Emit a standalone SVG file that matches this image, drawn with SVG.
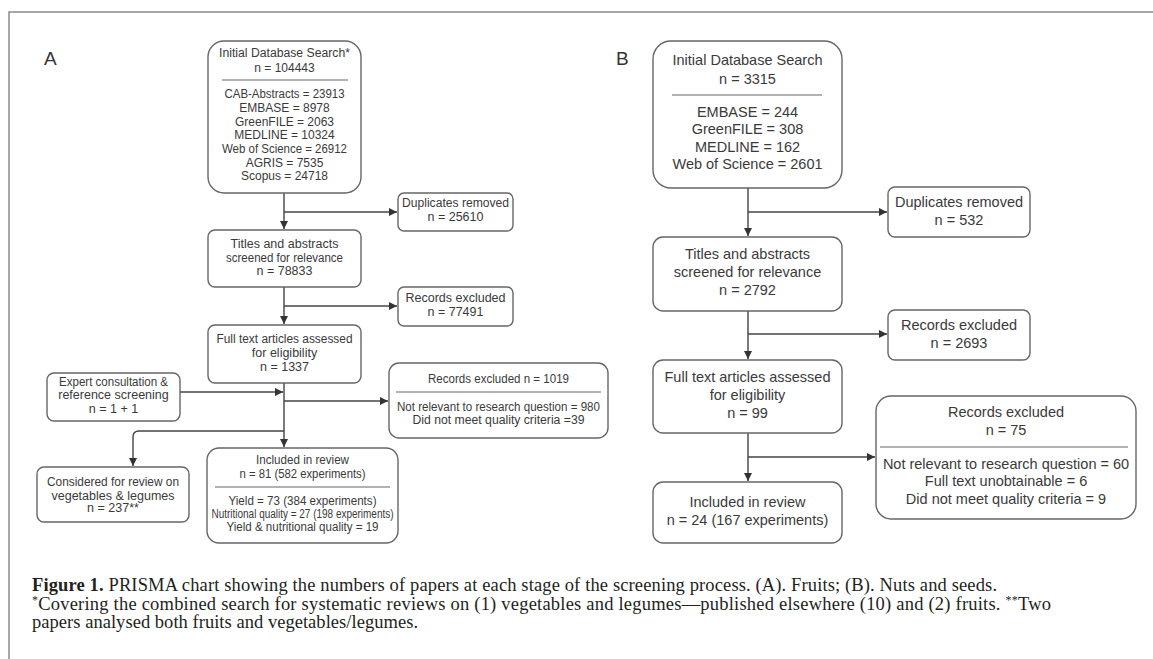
<svg xmlns="http://www.w3.org/2000/svg" width="1153" height="659" viewBox="0 0 1153 659">
<defs>
<marker id="ah" viewBox="0 0 10 10" refX="10" refY="5" markerWidth="8" markerHeight="8" markerUnits="userSpaceOnUse" orient="auto">
<path d="M0,0 L10,5 L0,10 z" fill="#333"/>
</marker>
<style>
.box{fill:#fff;stroke:#666;stroke-width:1.4}
.div{stroke:#666;stroke-width:1.2}
.ta{font-family:"Liberation Sans",Arial,sans-serif;font-size:12px;fill:#3a3a3a;text-anchor:middle}
.tm{font-family:"Liberation Sans",Arial,sans-serif;font-size:12.5px;fill:#3a3a3a;text-anchor:middle}
.tb{font-family:"Liberation Sans",Arial,sans-serif;font-size:14.5px;fill:#3a3a3a;text-anchor:middle}
.lbl{font-family:"Liberation Sans",Arial,sans-serif;font-size:19px;fill:#333}
.cap{font-family:"Liberation Serif","Times New Roman",serif;font-size:18.5px;fill:#231f20}
.con{fill:none;stroke:#444;stroke-width:1.4}
</style>
</defs>
<rect width="1153" height="659" fill="#fff"/>
<g id="frame"><path d="M9 659 V12 H1153" fill="none" stroke="#8a8a8a" stroke-width="1.5"/></g>
<text class="lbl" x="44" y="65">A</text>
<text class="lbl" x="616" y="65">B</text>

<g id="connectors">
<path class="con" d="M284 193 V229" marker-end="url(#ah)"/>
<path class="con" d="M284 212 H397" marker-end="url(#ah)"/>
<path class="con" d="M284 287 V324" marker-end="url(#ah)"/>
<path class="con" d="M284 306 H397" marker-end="url(#ah)"/>
<path class="con" d="M284 383 V447" marker-end="url(#ah)"/>
<path class="con" d="M180 392 H283" marker-end="url(#ah)"/>
<path class="con" d="M284 401 H388" marker-end="url(#ah)"/>
<path class="con" d="M284 431 H139 Q133 431 133 437 V466" marker-end="url(#ah)"/>
<path class="con" d="M748 188 V236" marker-end="url(#ah)"/>
<path class="con" d="M748 212 H887" marker-end="url(#ah)"/>
<path class="con" d="M748 311 V359" marker-end="url(#ah)"/>
<path class="con" d="M748 334 H887" marker-end="url(#ah)"/>
<path class="con" d="M748 433 V481" marker-end="url(#ah)"/>
<path class="con" d="M748 457 H875" marker-end="url(#ah)"/>
</g>

<g id="a-initial">
<rect class="box" x="208" y="41" width="153" height="152" rx="16"/>
<text class="ta" x="284.5" y="57" textLength="131" lengthAdjust="spacingAndGlyphs">Initial Database Search*</text>
<text class="ta" x="284.5" y="72">n = 104443</text>
<line class="div" x1="222" y1="80" x2="348" y2="80"/>
<text class="ta" x="284.5" y="98" textLength="120" lengthAdjust="spacingAndGlyphs">CAB-Abstracts = 23913</text>
<text class="ta" x="284.5" y="112">EMBASE = 8978</text>
<text class="ta" x="284.5" y="126">GreenFILE = 2063</text>
<text class="ta" x="284.5" y="139">MEDLINE = 10324</text>
<text class="ta" x="284.5" y="153" textLength="125" lengthAdjust="spacingAndGlyphs">Web of Science = 26912</text>
<text class="ta" x="284.5" y="167">AGRIS = 7535</text>
<text class="ta" x="284.5" y="180">Scopus = 24718</text>
</g>
<g id="a-duplicates">
<rect class="box" x="398" y="193" width="115" height="38" rx="6"/>
<text class="tm" x="455.5" y="207" textLength="107" lengthAdjust="spacingAndGlyphs">Duplicates removed</text>
<text class="tm" x="455.5" y="221">n = 25610</text>
</g>
<g id="a-titles">
<rect class="box" x="208" y="230" width="153" height="57" rx="7"/>
<text class="tm" x="284.5" y="248">Titles and abstracts</text>
<text class="tm" x="284.5" y="262" textLength="117" lengthAdjust="spacingAndGlyphs">screened for relevance</text>
<text class="tm" x="284.5" y="275">n = 78833</text>
</g>
<g id="a-excluded1">
<rect class="box" x="398" y="287" width="115" height="39" rx="6"/>
<text class="tm" x="455.5" y="302">Records excluded</text>
<text class="tm" x="455.5" y="316">n = 77491</text>
</g>
<g id="a-fulltext">
<rect class="box" x="208" y="325" width="153" height="58" rx="7"/>
<text class="tm" x="284.5" y="343" textLength="136" lengthAdjust="spacingAndGlyphs">Full text articles assessed</text>
<text class="tm" x="284.5" y="357">for eligibility</text>
<text class="tm" x="284.5" y="371">n = 1337</text>
</g>
<g id="a-expert">
<rect class="box" x="47" y="373" width="133" height="48" rx="7"/>
<text class="tm" x="113.5" y="386" textLength="109" lengthAdjust="spacingAndGlyphs">Expert consultation &amp;</text>
<text class="tm" x="113.5" y="399">reference screening</text>
<text class="tm" x="113.5" y="413">n = 1 + 1</text>
</g>
<g id="a-excluded2">
<rect class="box" x="389" y="363" width="219" height="75" rx="10"/>
<text class="tm" x="498.5" y="383" textLength="141" lengthAdjust="spacingAndGlyphs">Records excluded n = 1019</text>
<line class="div" x1="396" y1="392" x2="601" y2="392"/>
<text class="tm" x="498.5" y="411" textLength="203" lengthAdjust="spacingAndGlyphs">Not relevant to research question = 980</text>
<text class="tm" x="498.5" y="424" textLength="172" lengthAdjust="spacingAndGlyphs">Did not meet quality criteria =39</text>
</g>
<g id="a-considered">
<rect class="box" x="37" y="467" width="152" height="55" rx="7"/>
<text class="tm" x="113" y="486" textLength="132" lengthAdjust="spacingAndGlyphs">Considered for review on</text>
<text class="tm" x="113" y="500">vegetables &amp; legumes</text>
<text class="tm" x="113" y="512">n = 237**</text>
</g>
<g id="a-included">
<rect class="box" x="207" y="448" width="191" height="95" rx="12"/>
<text class="tm" x="302.5" y="464" textLength="93" lengthAdjust="spacingAndGlyphs">Included in review</text>
<text class="tm" x="302.5" y="478" textLength="126" lengthAdjust="spacingAndGlyphs">n = 81 (582 experiments)</text>
<line class="div" x1="215" y1="487" x2="390" y2="487"/>
<text class="tm" x="302.5" y="505" textLength="148" lengthAdjust="spacingAndGlyphs">Yield = 73 (384 experiments)</text>
<text class="tm" x="302.5" y="518" textLength="182" lengthAdjust="spacingAndGlyphs">Nutritional quality = 27 (198 experiments)</text>
<text class="tm" x="302.5" y="531" textLength="152" lengthAdjust="spacingAndGlyphs">Yield &amp; nutritional quality = 19</text>
</g>

<g id="b-initial">
<rect class="box" x="653" y="41" width="189" height="147" rx="18"/>
<text class="tb" x="747.5" y="65">Initial Database Search</text>
<text class="tb" x="747.5" y="84">n = 3315</text>
<line class="div" x1="672" y1="95" x2="822" y2="95"/>
<text class="tb" x="747.5" y="117">EMBASE = 244</text>
<text class="tb" x="747.5" y="134">GreenFILE = 308</text>
<text class="tb" x="747.5" y="152">MEDLINE = 162</text>
<text class="tb" x="747.5" y="169">Web of Science = 2601</text>
</g>
<g id="b-duplicates">
<rect class="box" x="888" y="187" width="142" height="50" rx="7"/>
<text class="tb" x="959" y="207">Duplicates removed</text>
<text class="tb" x="959" y="225">n = 532</text>
</g>
<g id="b-titles">
<rect class="box" x="653" y="237" width="189" height="74" rx="10"/>
<text class="tb" x="747.5" y="259">Titles and abstracts</text>
<text class="tb" x="747.5" y="277">screened for relevance</text>
<text class="tb" x="747.5" y="295">n = 2792</text>
</g>
<g id="b-excluded1">
<rect class="box" x="888" y="310" width="142" height="50" rx="7"/>
<text class="tb" x="959" y="330">Records excluded</text>
<text class="tb" x="959" y="348">n = 2693</text>
</g>
<g id="b-fulltext">
<rect class="box" x="653" y="360" width="189" height="73" rx="10"/>
<text class="tb" x="747.5" y="382">Full text articles assessed</text>
<text class="tb" x="747.5" y="400">for eligibility</text>
<text class="tb" x="747.5" y="418">n = 99</text>
</g>
<g id="b-excluded2">
<rect class="box" x="876" y="396" width="260" height="123" rx="15"/>
<text class="tb" x="1006" y="417">Records excluded</text>
<text class="tb" x="1006" y="435">n = 75</text>
<line class="div" x1="880" y1="447" x2="1128" y2="447"/>
<text class="tb" x="1006" y="469">Not relevant to research question = 60</text>
<text class="tb" x="1006" y="486">Full text unobtainable = 6</text>
<text class="tb" x="1006" y="504">Did not meet quality criteria = 9</text>
</g>
<g id="b-included">
<rect class="box" x="653" y="482" width="189" height="61" rx="10"/>
<text class="tb" x="747.5" y="507">Included in review</text>
<text class="tb" x="747.5" y="525">n = 24 (167 experiments)</text>
</g>

<g id="caption">
<text class="cap" x="32" y="591" textLength="965" lengthAdjust="spacing"><tspan font-weight="bold">Figure 1.</tspan> PRISMA chart showing the numbers of papers at each stage of the screening process. (A). Fruits; (B). Nuts and seeds.</text>
<text class="cap" x="32" y="610" textLength="1019" lengthAdjust="spacing"><tspan font-size="12" dy="-6">*</tspan><tspan dy="6">Covering the combined search for systematic reviews on (1) vegetables and legumes—published elsewhere (10) and (2) fruits. </tspan><tspan font-size="12" dy="-6">**</tspan><tspan dy="6">Two</tspan></text>
<text class="cap" x="32" y="628" textLength="386" lengthAdjust="spacing">papers analysed both fruits and vegetables/legumes.</text>
</g>
</svg>
